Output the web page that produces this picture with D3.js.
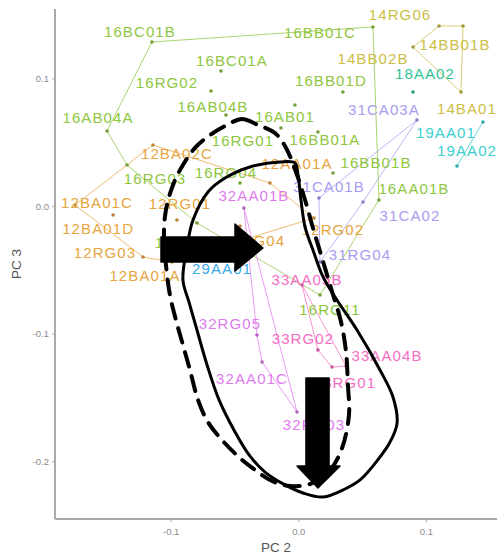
<!DOCTYPE html>
<html>
<head>
<meta charset="utf-8">
<script src="https://cdn.jsdelivr.net/npm/d3@7"></script>
<style>
  html, body { margin: 0; padding: 0; background: #fff; }
  svg { display: block; }
</style>
</head>
<body>
<svg id="chart" width="497" height="554"></svg>
<script>
// PCA scores (PC 2 vs PC 3) for each sample; group = first two characters of the name
const sampleNames = [
  "12BA02C","12BA01C","12BA01D","12RG03","12BA01A","12RG01","12AA01A","12RG04","12RG02",
  "14BB02B","14RG06","14BB01B","14BA01",
  "16BC01B","16BC01A","16BB01C","16RG02","16AB04B","16AB04A","16BB01D","16AB01","16RG01",
  "16BB01A","16RG04","16RG03","16RG06","16BB01B","16AA01B","16RG11",
  "18AA02",
  "19AA01","19AA02",
  "29AA01",
  "31CA03A","31CA01B","31CA02","31RG04",
  "32AA01B","32RG05","32AA01C","32RG03",
  "33AA05B","33RG02","33RG01","33AA04B"
];
const pc2 = [
  -0.1139,-0.1750,-0.1451,-0.1217,-0.0990,-0.0951,-0.0222,-0.0457,0.0123,
  0.0899,0.1103,0.1291,0.1275,
  -0.1147,-0.0606,0.0585,-0.0684,-0.0567,-0.1499,0.0350,-0.0026,-0.0136,
  0.0154,-0.0457,-0.1342,-0.0794,0.0272,0.0632,0.0170,
  0.0899,
  0.1447,0.1244,
  -0.0441,
  0.0930,0.0162,0.0507,0.0170,
  -0.0426,-0.0324,-0.0284,-0.0010,
  0.0029,0.0154,0.0264,0.0374
];
const pc3 = [
  0.0478,0.0008,-0.0071,-0.0400,-0.0439,-0.0110,0.0180,-0.0157,-0.0094,
  0.1246,0.1411,0.1411,0.0893,
  0.1285,0.1058,0.1403,0.0901,0.0713,0.0588,0.0893,0.0792,0.0611,
  0.0580,0.0180,0.0321,-0.0133,0.0259,0.0047,-0.0697,
  0.0893,
  0.0658,0.0313,
  -0.0392,
  0.0674,0.0063,0.0031,-0.0439,
  -0.0016,-0.1011,-0.1223,-0.1614,
  -0.0619,-0.1129,-0.1262,-0.1254
];

// Groups and their colours
const groups = ["12","14","16","18","19","29","31","32","33"];
const groupColors = ["#E6A540","#CBBE45","#8EC640","#2FC395","#3BCFD0","#3AA9E8","#A79CF0","#E07BEE","#F46CC3"];

// Axis ticks
const xTicks = [-0.1, 0.0, 0.1];
const yTicks = [0.1, 0.0, -0.1, -0.2];
const xTickLabels = ["-0.1","0.0","0.1"];
const yTickLabels = ["0.1","0.0","-0.1","-0.2"];

// Label nudges in pixels (repelled label placement), same order as sampleNames
const labelDx = [
  24,22,-15,-38,-27,3,27,14,19,
  -40,-39,-8,6,
  -12,11,-53,-44,-13,-9,-12,-10,-38,
  7,-14,28,-11,43,35,10,
  12,
  -37,10,
  -20,
  -33,10,47,40,
  10,-27,-10,17,
  5,-15,13,41
];
const labelDy = [
  8,-2,13,-5,13,-17,-20,14,12,
  11,-11,19,16,
  -11,-11,6,-9,-9,-13,-12,12,12,
  8,-11,13,20,-10,-12,15,
  -19,
  10,-16,
  12,
  -10,-11,13,-8,
  -13,-12,16,13,
  -5,-12,15,-11
];

// Hand-drawn outlines and arrows (in PC units)
const solidOutlineX = [-0.0904,-0.0872,-0.0825,-0.0708,-0.0574,-0.0379,-0.0143,-0.0026,-0.0002,0.0021,0.0053,0.0115,0.0194,0.0303,0.0460,0.0640,0.0742,0.0774,0.0719,0.0617,0.0484,0.0366,0.0194,0.0037,-0.0104,-0.0261,-0.0386,-0.0496,-0.0621,-0.0715,-0.0794,-0.0857];
const solidOutlineY = [-0.0580,-0.0321,-0.0110,0.0110,0.0219,0.0306,0.0345,0.0337,0.0243,0.0047,-0.0165,-0.0345,-0.0556,-0.0737,-0.0972,-0.1285,-0.1497,-0.1701,-0.1850,-0.1998,-0.2147,-0.2218,-0.2281,-0.2249,-0.2186,-0.2085,-0.1951,-0.1771,-0.1520,-0.1246,-0.0972,-0.0752];
const dashedOutlineX = [-0.0559,-0.0441,-0.0316,-0.0183,-0.0096,-0.0018,0.0053,0.0115,0.0186,0.0256,0.0335,0.0374,0.0389,0.0397,0.0343,0.0249,0.0092,-0.0065,-0.0206,-0.0339,-0.0457,-0.0598,-0.0708,-0.0786,-0.0849,-0.0904,-0.0959,-0.1006,-0.1037,-0.1053,-0.1037,-0.0982,-0.0904,-0.0810,-0.0692];
const dashedOutlineY = [0.0635,0.0682,0.0635,0.0572,0.0455,0.0266,0.0047,-0.0172,-0.0408,-0.0643,-0.0909,-0.1144,-0.1403,-0.1638,-0.1897,-0.2069,-0.2179,-0.2194,-0.2155,-0.2069,-0.1975,-0.1834,-0.1693,-0.1520,-0.1285,-0.1089,-0.0893,-0.0697,-0.0462,-0.0227,-0.0031,0.0165,0.0321,0.0455,0.0556];
const arrowRightX = [-0.1076,-0.0496,-0.0496,-0.0277,-0.0496,-0.0496,-0.1076];
const arrowRightY = [-0.0243,-0.0243,-0.0141,-0.0329,-0.0509,-0.0439,-0.0439];
const arrowDownX = [0.0060,0.0241,0.0241,0.0327,0.0154,-0.0010,0.0060];
const arrowDownY = [-0.1348,-0.1348,-0.2038,-0.2038,-0.2210,-0.2038,-0.2038];

(function draw() {
  const svg = d3.select("#chart");
  const mLeft = 55, mRight = 497, mTop = 9, mBottom = 519;

  const x = d3.scaleLinear().domain([-0.19067, 0.15572]).range([mLeft, mRight]);
  const y = d3.scaleLinear().domain([-0.2453, 0.15439]).range([mBottom, mTop]);
  const color = d3.scaleOrdinal().domain(groups).range(groupColors);

  const samples = sampleNames.map((n, i) => ({
    name: n, group: n.slice(0, 2), pc2: pc2[i], pc3: pc3[i], dx: labelDx[i], dy: labelDy[i]
  }));

  svg.append("defs").append("clipPath").attr("id", "panel")
    .append("rect").attr("x", mLeft).attr("y", 0).attr("width", mRight - mLeft).attr("height", mBottom);

  // Group outlines (convex hulls)
  const layer = svg.append("g").attr("clip-path", "url(#panel)");
  groups.forEach(g => {
    const pts = samples.filter(s => s.group === g).map(s => [x(s.pc2), y(s.pc3)]);
    let d = null;
    if (pts.length >= 3) d = "M" + d3.polygonHull(pts).join("L") + "Z";
    else if (pts.length === 2) d = "M" + pts.join("L");
    if (d) layer.append("path").attr("d", d)
      .attr("fill", "none").attr("stroke", color(g))
      .attr("stroke-width", 1).attr("stroke-opacity", 0.75);
  });

  // Points
  layer.selectAll("circle.pt").data(samples).enter().append("circle")
    .attr("class", "pt")
    .attr("cx", d => x(d.pc2)).attr("cy", d => y(d.pc3)).attr("r", 1.8)
    .attr("fill", d => d3.color(color(d.group)).darker(0.6));

  // Sample labels
  layer.selectAll("text.lab").data(samples).enter().append("text")
    .attr("class", "lab")
    .attr("x", d => x(d.pc2) + d.dx)
    .attr("y", d => y(d.pc3) + d.dy)
    .attr("text-anchor", "middle").attr("dominant-baseline", "central")
    .attr("font-family", "Liberation Sans, Arial, sans-serif")
    .attr("font-size", 15).attr("letter-spacing", 1.1)
    .attr("fill", d => color(d.group))
    .text(d => d.name);

  // Axes
  const axisColor = "#a9a9a9";
  const xAxis = svg.append("g").attr("transform", `translate(0,${mBottom})`)
    .call(d3.axisBottom(x).tickValues(xTicks).tickSize(3).tickFormat((d, i) => xTickLabels[i]));
  const yAxis = svg.append("g").attr("transform", `translate(${mLeft},0)`)
    .call(d3.axisLeft(y).tickValues(yTicks).tickSize(3).tickFormat((d, i) => yTickLabels[i]));
  [xAxis, yAxis].forEach(a => {
    a.select(".domain").attr("stroke", axisColor).attr("stroke-width", 2);
    a.selectAll(".tick line").attr("stroke", axisColor);
    a.selectAll(".tick text").attr("fill", "#8a8a8a")
      .attr("font-family", "Liberation Sans, Arial, sans-serif").attr("font-size", 9.5);
  });
  xAxis.select(".domain").attr("d", `M${mLeft},0H${mRight}`);
  yAxis.select(".domain").attr("d", `M0,${mTop}V${mBottom}`);
  xAxis.selectAll(".tick text").attr("dy", "1.1em");

  svg.append("text").attr("x", (mLeft + mRight) / 2).attr("y", 547)
    .attr("text-anchor", "middle").attr("dominant-baseline", "central")
    .attr("font-family", "Liberation Sans, Arial, sans-serif").attr("font-size", 13.5)
    .attr("fill", "#555").text("PC 2");
  svg.append("text")
    .attr("transform", `translate(16,${(mTop + mBottom) / 2}) rotate(-90)`)
    .attr("text-anchor", "middle").attr("dominant-baseline", "central")
    .attr("font-family", "Liberation Sans, Arial, sans-serif").attr("font-size", 13.5)
    .attr("fill", "#555").text("PC 3");

  // Hand-drawn outlines
  const outline = d3.line().x(d => x(d[0])).y(d => y(d[1])).curve(d3.curveCatmullRomClosed.alpha(0.5));
  const dashedPts = dashedOutlineX.map((v, i) => [v, dashedOutlineY[i]]);
  const solidPts = solidOutlineX.map((v, i) => [v, solidOutlineY[i]]);
  svg.append("path").attr("d", outline(dashedPts))
    .attr("fill", "none").attr("stroke", "#000").attr("stroke-width", 4)
    .attr("stroke-dasharray", "15 10").attr("stroke-linecap", "round");
  svg.append("path").attr("d", outline(solidPts))
    .attr("fill", "none").attr("stroke", "#000").attr("stroke-width", 3)
    .attr("stroke-linejoin", "round");

  // Arrows
  const poly = d3.line().x(d => x(d[0])).y(d => y(d[1]));
  [[arrowRightX, arrowRightY], [arrowDownX, arrowDownY]].forEach(([ax, ay]) => {
    svg.append("path").attr("d", poly(ax.map((v, i) => [v, ay[i]])) + "Z")
      .attr("fill", "#000").attr("stroke", "#000").attr("stroke-width", 1.5)
      .attr("stroke-linejoin", "round");
  });
})();
</script>
</body>
</html>
